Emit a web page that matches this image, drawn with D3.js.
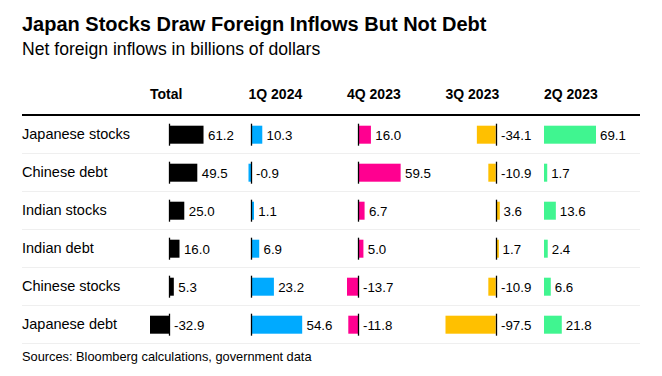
<!DOCTYPE html>
<html>
<head>
<meta charset="utf-8">
<script src="https://cdn.jsdelivr.net/npm/d3@7"></script>
<style>
  body { margin: 0; background: #fff; font-family: "Liberation Sans", Arial, Helvetica, sans-serif; }
  svg text { fill: #000; }
</style>
</head>
<body>
<div id="chart"></div>
<script>
var categories = ["Japanese stocks", "Chinese debt", "Indian stocks", "Indian debt", "Chinese stocks", "Japanese debt"];
var columns = ["Total", "1Q 2024", "4Q 2023", "3Q 2023", "2Q 2023"];
var total = [61.2, 49.5, 25.0, 16.0, 5.3, -32.9];
var q1_2024 = [10.3, -0.9, 1.1, 6.9, 23.2, 54.6];
var q4_2023 = [16.0, 59.5, 6.7, 5.0, -13.7, -11.8];
var q3_2023 = [-34.1, -10.9, 3.6, 1.7, -10.9, -97.5];
var q2_2023 = [69.1, 1.7, 13.6, 2.4, 6.6, 21.8];
var colors = ["#000000", "#00aaff", "#ff0090", "#ffc000", "#40f590"];

var series = [total, q1_2024, q4_2023, q3_2023, q2_2023];

var width = 662, height = 376;
var fmt = d3.formatLocale({decimal: ".", thousands: ",", grouping: [3], currency: ["$", ""], minus: "-"}).format(".1f");

var svg = d3.select("#chart").append("svg")
    .attr("width", width)
    .attr("height", height);

svg.append("text")
    .attr("x", 22).attr("y", 31)
    .style("font-size", "20px").style("font-weight", "bold")
    .text("Japan Stocks Draw Foreign Inflows But Not Debt");

svg.append("text")
    .attr("x", 22).attr("y", 55)
    .style("font-size", "17.6px")
    .text("Net foreign inflows in billions of dollars");

var col = d3.scaleBand().domain(columns).range([150, 642.5]);
var row = d3.scaleBand().domain(categories).range([115, 153 + 38 * 5]);
var barW = 50, barH = 18, minBar = 2;

// headers
svg.selectAll(".head")
  .data(columns)
  .enter().append("text")
    .attr("class", "head")
    .attr("x", function(d) { return col(d); })
    .attr("y", 99)
    .style("font-size", "14px").style("font-weight", "bold")
    .text(function(d) { return d; });

// top rule + row separators
svg.append("line")
    .attr("x1", 22).attr("x2", 640)
    .attr("y1", 115).attr("y2", 115)
    .attr("stroke", "#000").attr("stroke-width", 2);

svg.selectAll(".sep")
  .data(categories)
  .enter().append("line")
    .attr("x1", 22).attr("x2", 640)
    .attr("y1", function(d) { return row(d) + row.bandwidth() + 0.5; })
    .attr("y2", function(d) { return row(d) + row.bandwidth() + 0.5; })
    .attr("stroke", "#efefef").attr("stroke-width", 1);

// row labels
svg.selectAll(".lab")
  .data(categories)
  .enter().append("text")
    .attr("x", 22)
    .attr("y", function(d) { return row(d) + row.bandwidth() / 2 + 4.5; })
    .style("font-size", "14.5px")
    .text(function(d) { return d; });

function mid(i) { return row(categories[i]) + row.bandwidth() / 2 + 0.7; }

// one little bar chart per column
columns.forEach(function(c, ci) {
  var vals = series[ci];
  var lo = Math.min(0, d3.min(vals)), hi = Math.max(0, d3.max(vals));
  var x = d3.scaleLinear()
      .domain([lo, hi])
      .range([col(c) + (lo < 0 ? minBar : 0), col(c) + (lo < 0 ? minBar : 0) + barW]);
  var x0 = Math.round(x(0));

  var g = svg.append("g");

  g.selectAll("rect")
    .data(vals)
    .enter().append("rect")
      .attr("x", function(d) { return d < 0 ? x(d) - minBar : x0; })
      .attr("y", function(d, i) { return mid(i) - barH / 2; })
      .attr("width", function(d) { return Math.abs(x(d) - x(0)) + minBar; })
      .attr("height", barH)
      .attr("fill", colors[ci]);

  // zero line only where the column goes negative
  if (lo < 0) {
    g.selectAll("line")
      .data(vals)
      .enter().append("line")
        .attr("x1", x0 + 0.5).attr("x2", x0 + 0.5)
        .attr("y1", function(d, i) { return mid(i) - 11; })
        .attr("y2", function(d, i) { return mid(i) + 11; })
        .attr("stroke", "#000").attr("stroke-width", 1.3);
  }

  g.selectAll("text")
    .data(vals)
    .enter().append("text")
      .attr("x", function(d) { return d < 0 ? x0 + 5 : x(d) + minBar + 4; })
      .attr("y", function(d, i) { return mid(i) + 5; })
      .style("font-size", "13.3px")
      .text(function(d) { return fmt(d); });
});

svg.append("text")
    .attr("x", 22).attr("y", 361)
    .style("font-size", "12.8px")
    .text("Sources: Bloomberg calculations, government data");
</script>
</body>
</html>
